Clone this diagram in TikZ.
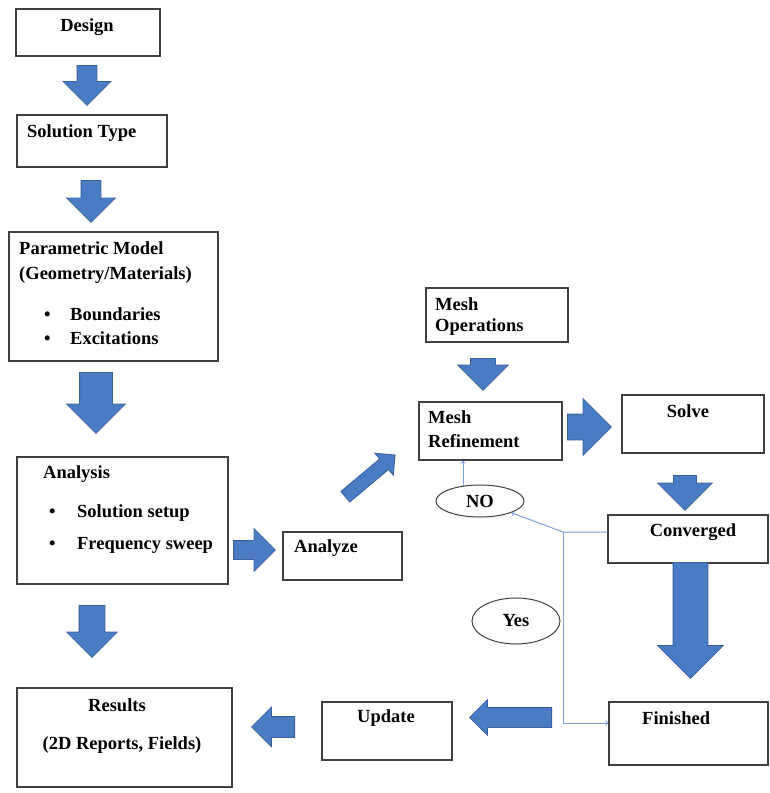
\documentclass[tikz,border=0pt]{standalone}
\usepackage{fontspec}
\setmainfont{Liberation Serif}
\usetikzlibrary{shapes.arrows,shapes.geometric}

\definecolor{blkfill}{HTML}{4A7CC4}
\definecolor{blkline}{HTML}{3A5E9C}
\definecolor{linkblue}{HTML}{7C9EDA}

\tikzset{
  box/.style={draw=black!75, line width=1.3pt, inner sep=0pt},
  txt/.style={font=\fontsize{18.5}{25}\selectfont\bfseries, inner sep=0pt},
  blk/.style={single arrow, draw=blkline, fill=blkfill, line width=0.8pt, inner xsep=0pt, anchor=tail},
  oval/.style={ellipse, draw=black!75, line width=1pt, inner sep=0pt, font=\fontsize{18.5}{25}\selectfont\bfseries},
  link/.style={draw=linkblue, line width=1pt, ->}
}

\begin{document}
\begin{tikzpicture}[x=1pt, y=-1pt]
  \useasboundingbox[fill=white] (0,0) rectangle (769,793);

  % Kaesten
  \node[box, minimum width=144pt, minimum height=47pt] (design) at (88,32.5) {};
  \node[box, minimum width=150pt, minimum height=52pt] (soltype) at (92,141) {};
  \node[box, minimum width=209pt, minimum height=129pt] (param) at (113.5,296.5) {};
  \node[box, minimum width=211pt, minimum height=127pt] (analysis) at (122.5,520.5) {};
  \node[box, minimum width=215pt, minimum height=99pt] (results) at (124.5,737.5) {};
  \node[box, minimum width=119pt, minimum height=48pt] (analyze) at (342.5,556) {};
  \node[box, minimum width=142pt, minimum height=54pt] (meshop) at (497,315) {};
  \node[box, minimum width=143pt, minimum height=58pt] (meshref) at (490.5,431) {};
  \node[box, minimum width=142pt, minimum height=58pt] (solve) at (693,424) {};
  \node[box, minimum width=160pt, minimum height=48pt] (conv) at (688,539) {};
  \node[box, minimum width=159pt, minimum height=63pt] (finished) at (688.5,733.5) {};
  \node[box, minimum width=130pt, minimum height=58pt] (update) at (387,731) {};

  % Texte
  \node[txt] (designT) at (87,27) {Design};
  \node[txt, anchor=west] (soltypeT) at (27,133) {Solution Type};
  \node[txt, anchor=west] (paramT) at (19,248) {Parametric Model};
  \node[txt, anchor=west] (geomT) at (19,275) {(Geometry/Materials)};
  \node[txt, anchor=west] (bndT) at (44,314) {\makebox[26pt][l]{\textbullet}Boundaries};
  \node[txt, anchor=west] (excT) at (44,338) {\makebox[26pt][l]{\textbullet}Excitations};
  \node[txt, anchor=west] (analysisT) at (43,474) {Analysis};
  \node[txt, anchor=west] (setupT) at (49,513) {\makebox[28pt][l]{\textbullet}Solution setup};
  \node[txt, anchor=west] (sweepT) at (49,545) {\makebox[28pt][l]{\textbullet}Frequency sweep};
  \node[txt] (resultsT) at (117,705) {Results};
  \node[txt] (fieldsT) at (122,745) {(2D Reports, Fields)};
  \node[txt, anchor=west] (analyzeT) at (294,548) {Analyze};
  \node[txt, anchor=west] (meshopT) at (435,304) {Mesh};
  \node[txt, anchor=west] (meshopT2) at (435,327) {Operations};
  \node[txt, anchor=west] (meshrefT) at (428,417) {Mesh};
  \node[txt, anchor=west] (meshrefT2) at (428,441) {Refinement};
  \node[txt] (solveT) at (688,411) {Solve};
  \node[txt] (convT) at (693,532) {Converged};
  \node[txt, anchor=west] (finishedT) at (642,718) {Finished};
  \node[txt] (updateT) at (386,718) {Update};

  % Ellipsen
  \node[oval, minimum width=88pt, minimum height=32pt] (no) at (480,501) {NO};
  \node[oval, minimum width=88pt, minimum height=46pt] (yes) at (516,621) {Yes};

  % Blockpfeile
  \node[blk, rotate=-90, minimum height=40pt, inner ysep=9.5pt, single arrow head extend=14pt] (a1) at (87,65) {};
  \node[blk, rotate=-90, minimum height=42pt, inner ysep=9.5pt, single arrow head extend=14.5pt] (a2) at (91,180) {};
  \node[blk, rotate=-90, minimum height=61pt, inner ysep=16pt, single arrow head extend=13pt] (a3) at (96,372) {};
  \node[blk, rotate=-90, minimum height=52pt, inner ysep=12.5pt, single arrow head extend=12.5pt] (a4) at (92,605) {};
  \node[blk, minimum height=42pt, inner ysep=9pt, single arrow head extend=12pt] (a5) at (233,550) {};
  \node[blk, rotate=40, minimum height=65pt, inner ysep=6.5pt, single arrow head extend=7.5pt] (a6) at (345,497) {};
  \node[blk, rotate=-90, minimum height=32pt, inner ysep=12pt, single arrow head extend=13pt] (a7) at (483,358) {};
  \node[blk, minimum height=44pt, inner ysep=12.5pt, single arrow head extend=15.5pt] (a8) at (567,427) {};
  \node[blk, rotate=-90, minimum height=35pt, inner ysep=11pt, single arrow head extend=16pt] (a9) at (685,475) {};
  \node[blk, rotate=-90, minimum height=116pt, inner ysep=17pt, single arrow head extend=15.5pt] (a10) at (690.5,562) {};
  \node[blk, rotate=180, minimum height=82pt, inner ysep=9.5pt, single arrow head extend=8pt] (a11) at (552,717.5) {};
  \node[blk, rotate=180, minimum height=43pt, inner ysep=10pt, single arrow head extend=9.5pt] (a12) at (295,727) {};

  % Rueckfuehrung
  \coordinate (j) at (563,532);
  \coordinate (jb) at (563,723);
  \coordinate (noup) at ([xshift=-17pt,yshift=-1pt]no.north);
  \draw[link] (conv.west |- j) -- (j) -- (no);
  \draw[link] (j) -- (jb) -- (jb -| finished.west);
  \draw[link] (noup) -- (noup |- meshref.south);
\end{tikzpicture}
\end{document}
